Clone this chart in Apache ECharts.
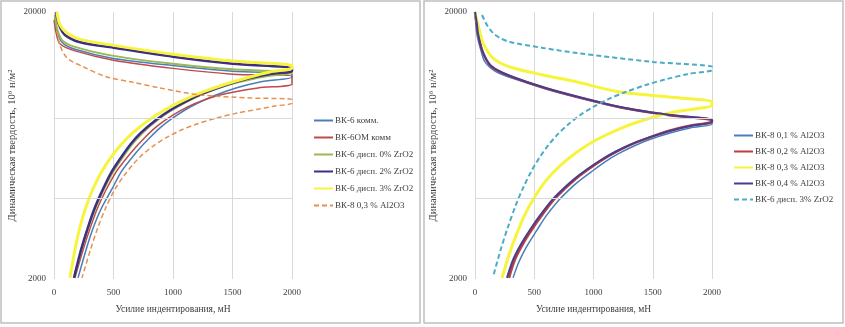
<!DOCTYPE html>
<html>
<head>
<meta charset="utf-8">
<script src="https://cdn.jsdelivr.net/npm/echarts@6/dist/echarts.min.js"></script>
<style>
html, body { margin: 0; padding: 0; background: #fff; }
#chart { width: 845px; height: 327px; }
</style>
</head>
<body>
<div id="chart"></div>
<script>
// ticks
var xTicks = [0, 500, 1000, 1500, 2000];
var yTickLabels = [2000, 20000];
var yGridValues = [4000, 8000];

// left panel: [force mN, hardness] - loading branch then unloading branch
var leftNames = ['ВК-6 комм.', 'ВК-6ОМ комм', 'ВК-6 дисп. 0% ZrO2', 'ВК-6 дисп. 2% ZrO2', 'ВК-6 дисп. 3% ZrO2', 'ВК-8 0,3 % Al2O3'];
var vk6Komm = [[8,19000],[25,17100],[67,15400],[176,14500],[500,13400],[1000,12600],[1500,12000],[2000,11700],
    [2000,11420],[1731,10940],[1529,10390],[1361,9780],[1227,9200],[1101,8590],[987,7950],[891,7360],[803,6750],
    [723,6190],[639,5580],[563,5030],[483,4310],[399,3690],[332,3130],[269,2570],[202,2020]];
var vk6omKomm = [[0,18700],[17,16800],[50,15200],[176,14300],[500,13200],[1000,12300],[1500,11700],[2000,11500],
    [2000,10750],[1714,10390],[1513,10030],[1336,9610],[1176,9050],[1059,8520],[950,7950],[849,7360],[760,6750],
    [681,6190],[597,5580],[521,5030],[437,4310],[366,3690],[307,3130],[244,2570],[176,2020]];
var vk6Zr0 = [[8,19500],[25,17400],[67,15700],[176,14800],[500,13700],[1000,12800],[1500,12200],[2000,11900],
    [2000,11820],[1798,11520],[1630,11130],[1462,10660],[1269,9950],[1126,9280],[992,8590],[870,7880],[744,7050],
    [660,6410],[580,5730],[496,5030],[416,4310],[349,3690],[290,3130],[231,2570],[168,2020]];
var vk6Zr2 = [[17,20000],[42,17900],[92,16400],[220,15400],[500,14700],[1000,13600],[1500,12800],[2000,12300],
    [2000,12020],[1815,11720],[1647,11320],[1470,10750],[1264,9950],[1114,9280],[979,8590],[857,7880],[729,7050],
    [645,6410],[566,5730],[483,5030],[408,4310],[342,3690],[286,3130],[227,2570],[168,2020]];
var vk6Zr3 = [[25,20000],[50,17900],[110,16700],[220,15800],[500,15000],[1000,13900],[1500,13100],[2000,12600],
    [2000,12340],[1815,11920],[1647,11420],[1445,10750],[1230,9950],[1072,9280],[929,8590],[798,7880],[661,7050],
    [569,6410],[481,5730],[399,5030],[324,4310],[266,3690],[218,3130],[176,2570],[134,2020]];
var vk8Al03L = [[25,17000],[50,15000],[110,13450],[250,12450],[445,11420],[670,10900],[890,10390],[1230,9780],[1650,9530],[2000,9400],
    [2000,9120],[1857,8890],[1723,8660],[1544,8370],[1367,8020],[1201,7610],[1070,7230],[952,6800],[845,6350],
    [750,5880],[666,5390],[586,4860],[509,4310],[434,3690],[370,3130],[306,2570],[235,2020]];

// right panel
var rightNames = ['ВК-8 0,1 % Al2O3', 'ВК-8 0,2 % Al2O3', 'ВК-8 0,3 % Al2O3', 'ВК-8 0,4 % Al2O3', 'ВК-6 дисп. 3% ZrO2'];
var vk8Al01 = [[0,20000],[12,17000],[25,15800],[42,14800],[84,13000],[186,11900],[440,10850],[717,9950],[1224,8780],[1646,8200],[2000,7820],
    [2000,7610],[1814,7360],[1646,7050],[1485,6690],[1342,6300],[1207,5880],[1097,5490],[979,5030],[869,4620],
    [776,4240],[692,3880],[599,3440],[523,3050],[439,2660],[371,2320],[321,2020]];
var vk8Al02 = [[0,20000],[17,17700],[28,16500],[62,14300],[130,12600],[240,11780],[440,10900],[717,10000],[1224,8800],[1646,8210],[2000,7860],
    [2000,7780],[1814,7500],[1646,7200],[1490,6830],[1340,6440],[1198,6010],[1080,5610],[954,5140],[844,4720],
    [751,4330],[667,3970],[574,3510],[490,3110],[405,2710],[338,2370],[287,2020]];
var vk8Al03 = [[0,20000],[34,17300],[68,15300],[152,13450],[295,12450],[574,11620],[861,10940],[1224,10030],[1730,9530],[2000,9200],
    [2000,8970],[1679,8440],[1426,7880],[1215,7290],[1021,6630],[861,5980],[726,5350],[604,4700],[498,4020],
    [419,3470],[341,2870],[284,2440],[228,2020]];
var vk8Al04 = [[0,20000],[17,17880],[25,16690],[59,14410],[127,12670],[236,11820],[439,10940],[717,10030],[1224,8820],[1646,8230],[2000,7880],
    [2000,7750],[1814,7480],[1646,7170],[1477,6800],[1325,6410],[1181,5980],[1063,5580],[937,5120],[827,4700],
    [734,4310],[650,3950],[557,3500],[473,3100],[388,2700],[321,2360],[270,2020]];
var vk6Zr3R = [[59,19490],[101,17880],[152,16690],[211,15980],[295,15440],[574,14670],[861,14040],[1502,13000],[2000,12450],
    [2000,12130],[1797,11720],[1619,11220],[1442,10660],[1271,10030],[1129,9450],[998,8820],[889,8230],[791,7610],
    [702,6990],[620,6350],[548,5730],[477,5080],[409,4420],[345,3790],[278,3130],[216,2570],[152,2035]];

var font = 'Liberation Serif';
var textColor = '#404040';
var gridColor = '#d9d9d9';

function xAxisOf(idx) {
    return {
        type: 'value', gridIndex: idx, min: xTicks[0], max: xTicks[xTicks.length - 1], interval: 500,
        name: 'Усилие индентирования, мН', nameLocation: 'middle', nameGap: 25,
        nameTextStyle: { fontFamily: font, fontSize: 9.5, color: textColor },
        axisLine: { show: false }, axisTick: { show: false },
        axisLabel: { fontFamily: font, fontSize: 9, color: textColor, margin: 9,
            formatter: function (v) { return String(v); } },
        splitLine: { show: true, lineStyle: { color: gridColor, width: 1 } }
    };
}

function yAxisOf(idx) {
    return {
        type: 'log', logBase: 10, gridIndex: idx, min: 2000, max: 20000,
        name: 'Динамическая твердость, 10⁶ н/м²', nameLocation: 'middle', nameGap: 36,
        nameTextStyle: { fontFamily: font, fontSize: 10.5, color: textColor },
        axisLine: { show: false }, axisTick: { show: false },
        splitLine: { show: false },
        axisLabel: {
            fontFamily: font, fontSize: 9, color: textColor, margin: 8,
            showMinLabel: true, showMaxLabel: true,
            formatter: function (v) {
                for (var i = 0; i < yTickLabels.length; i++) {
                    if (Math.abs(v - yTickLabels[i]) < 1) return String(yTickLabels[i]);
                }
                return '';
            }
        }
    };
}

function gridLines() {
    return {
        silent: true, symbol: 'none', label: { show: false },
        lineStyle: { color: gridColor, width: 1, type: 'solid' },
        data: yGridValues.map(function (v) { return { yAxis: v }; })
    };
}

function line(name, data, idx, color, width, dashed) {
    return {
        name: name, type: 'line', data: data,
        xAxisIndex: idx, yAxisIndex: idx,
        symbol: 'none', smooth: 0.3, z: 3,
        lineStyle: { color: color, width: width, type: dashed ? [5, 3] : 'solid' },
        itemStyle: { color: color }
    };
}

// series names get a prefix so both legends can hold the same label
var series = [
    line('L' + leftNames[0], vk6Komm, 0, '#4a7ebb', 1.5),
    line('L' + leftNames[1], vk6omKomm, 0, '#be4b48', 1.5),
    line('L' + leftNames[2], vk6Zr0, 0, '#98b954', 2),
    line('L' + leftNames[3], vk6Zr2, 0, '#3d2f82', 2.5),
    line('L' + leftNames[4], vk6Zr3, 0, '#f6f43c', 3),
    line('L' + leftNames[5], vk8Al03L, 0, '#e8904f', 1.5, true),
    line('R' + rightNames[0], vk8Al01, 1, '#4a7ebb', 1.5),
    line('R' + rightNames[1], vk8Al02, 1, '#b8413f', 2.5),
    line('R' + rightNames[2], vk8Al03, 1, '#f6f43c', 3),
    line('R' + rightNames[3], vk8Al04, 1, '#4b3c8c', 2),
    line('R' + rightNames[4], vk6Zr3R, 1, '#4bacc6', 2, true)
];
series[0].markLine = gridLines();
series[6].markLine = gridLines();

function legendOf(names, prefix, left, top, gap) {
    return {
        orient: 'vertical', left: left, top: top, padding: 0,
        itemWidth: 19, itemHeight: 10, itemGap: gap,
        selectedMode: false,
        itemStyle: { opacity: 0 },
        data: names.map(function (n) { return prefix + n; }),
        formatter: function (n) { return n.slice(1); },
        textStyle: { fontFamily: font, fontSize: 9, color: textColor, padding: [0, 0, 0, -3] }
    };
}

var myChart = echarts.init(document.getElementById('chart'), null, { renderer: 'canvas' });
var option = {
    animation: false,
    backgroundColor: '#ffffff',
    grid: [
        { left: 54, top: 12, width: 238, height: 267 },
        { left: 475, top: 12, width: 237, height: 267 }
    ],
    xAxis: [xAxisOf(0), xAxisOf(1)],
    yAxis: [yAxisOf(0), yAxisOf(1)],
    legend: [
        legendOf(leftNames, 'L', 313, 116, 8),
        legendOf(rightNames, 'R', 733, 131, 7)
    ],
    graphic: [
        { type: 'rect', shape: { x: 1, y: 1, width: 419, height: 322 }, style: { fill: 'none', stroke: '#bfbfbf', lineWidth: 1.5 }, silent: true },
        { type: 'rect', shape: { x: 424, y: 1, width: 419, height: 322 }, style: { fill: 'none', stroke: '#bfbfbf', lineWidth: 1.5 }, silent: true }
    ],
    series: series
};
myChart.setOption(option);
</script>
</body>
</html>
